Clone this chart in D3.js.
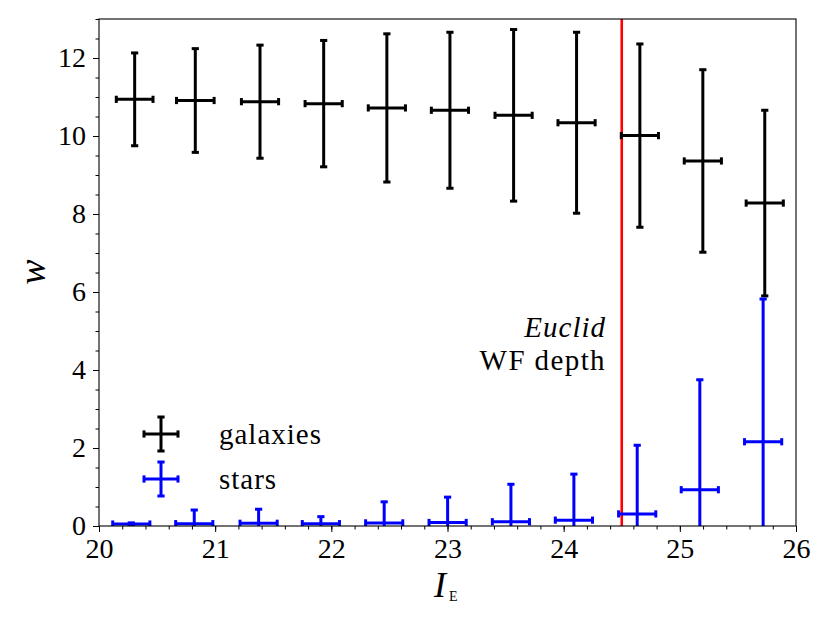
<!DOCTYPE html>
<html>
<head>
<meta charset="utf-8">
<script src="https://cdn.jsdelivr.net/npm/d3@7"></script>
</head>
<body style="margin:0;padding:0;background:#fff;">
<svg id="chart" width="830" height="623"></svg>
<script>
// ---- data ----
const galX    = [20.307, 20.829, 21.386, 21.934, 22.478, 23.021, 23.569, 24.111, 24.656, 25.198, 25.731];
const galXErr = [0.158, 0.162, 0.16, 0.16, 0.16, 0.16, 0.16, 0.16, 0.16, 0.16, 0.16];
const galY    = [10.94, 10.91, 10.88, 10.83, 10.72, 10.66, 10.53, 10.34, 10.01, 9.36, 8.28];
const galYErr = [1.19, 1.33, 1.45, 1.62, 1.90, 2.00, 2.20, 2.32, 2.35, 2.34, 2.38];

const starX    = [20.278, 20.820, 21.374, 21.910, 22.455, 23.001, 23.546, 24.088, 24.633, 25.172, 25.717];
const starXErr = [0.16, 0.16, 0.16, 0.16, 0.16, 0.16, 0.16, 0.16, 0.16, 0.16, 0.16];
const starY    = [0.05, 0.06, 0.07, 0.06, 0.08, 0.09, 0.11, 0.15, 0.31, 0.93, 2.16];
const starYErr = [0.03, 0.35, 0.36, 0.18, 0.54, 0.65, 0.96, 1.18, 1.76, 2.82, 3.66];

const xTicks = [20, 21, 22, 23, 24, 25, 26];
const yTicks = [0, 2, 4, 6, 8, 10, 12];
const depthLine = 24.5;
const legendLabels = ["galaxies", "stars"];

// ---- layout ----
const FONT = '"Liberation Serif"';
const svg = d3.select("#chart").attr("font-family", "Liberation Serif").style("font-family", FONT, "important");
const L = 99, R = 796, T = 19, B = 526;
const x = d3.scaleLinear().domain([20, 26]).range([L, R]);
const y = d3.scaleLinear().domain([0, 13]).range([B, T]);

function txt(sel, size) {
  return sel.attr("font-family", "Liberation Serif")
    .style("font-family", FONT, "important")
    .style("font-size", size + "px").style("fill", "#000");
}

svg.append("defs").append("clipPath").attr("id", "plotclip")
  .append("rect").attr("x", L).attr("y", T).attr("width", R - L).attr("height", B - T);

const plot = svg.append("g").attr("clip-path", "url(#plotclip)");

// red depth line
plot.append("line")
  .attr("x1", x(depthLine)).attr("x2", x(depthLine))
  .attr("y1", y(13)).attr("y2", y(0))
  .attr("stroke", "#ff0000").attr("stroke-width", 2.6);

function drawErr(g, xs, xe, ys, ye, color) {
  const cap = 3.6, lw = 3;
  xs.forEach((xv, i) => {
    const cx = x(xv), cy = y(ys[i]);
    const x0 = x(xv - xe[i]), x1 = x(xv + xe[i]);
    const y0 = y(ys[i] - ye[i]), y1 = y(ys[i] + ye[i]);
    const grp = g.append("g").attr("stroke", color).attr("stroke-width", lw).attr("fill", "none");
    grp.append("line").attr("x1", x0).attr("x2", x1).attr("y1", cy).attr("y2", cy);
    grp.append("line").attr("x1", cx).attr("x2", cx).attr("y1", y0).attr("y2", y1);
    grp.append("line").attr("x1", x0).attr("x2", x0).attr("y1", cy - cap).attr("y2", cy + cap);
    grp.append("line").attr("x1", x1).attr("x2", x1).attr("y1", cy - cap).attr("y2", cy + cap);
    grp.append("line").attr("x1", cx - cap).attr("x2", cx + cap).attr("y1", y0).attr("y2", y0);
    grp.append("line").attr("x1", cx - cap).attr("x2", cx + cap).attr("y1", y1).attr("y2", y1);
  });
}
drawErr(plot, galX, galXErr, galY, galYErr, "#000000");
drawErr(plot, starX, starXErr, starY, starYErr, "#0000ff");

// frame
svg.append("rect").attr("x", L).attr("y", T).attr("width", R - L).attr("height", B - T)
  .attr("fill", "none").attr("stroke", "#000").attr("stroke-width", 1.1);

// axes
const xAxis = d3.axisBottom(x).tickValues(xTicks).tickFormat(d3.format("d")).tickSize(6).tickPadding(6);
const xMinor = d3.axisBottom(x).tickValues(d3.range(20, 26.001, 0.2)).tickFormat("").tickSize(3.5);
const yAxis = d3.axisLeft(y).tickValues(yTicks).tickFormat(d3.format("d")).tickSize(6).tickPadding(7);
const yMinor = d3.axisLeft(y).tickValues(d3.range(0, 13.001, 0.5)).tickFormat("").tickSize(3.5);

function styleAxis(g) {
  g.attr("font-family", "Liberation Serif").attr("font-size", null);
  g.select(".domain").remove();
  g.selectAll(".tick line").attr("stroke", "#000").attr("stroke-width", 1);
  txt(g.selectAll("text"), 28);
}
svg.append("g").attr("transform", `translate(0,${B})`).call(xMinor).call(styleAxis);
svg.append("g").attr("transform", `translate(0,${B})`).call(xAxis).call(styleAxis);
svg.append("g").attr("transform", `translate(${L},0)`).call(yMinor).call(styleAxis);
svg.append("g").attr("transform", `translate(${L},0)`).call(yAxis).call(styleAxis);

// axis labels
const xl = txt(svg.append("text").attr("x", 434).attr("y", 597), 36);
xl.append("tspan").style("font-style", "italic").text("I");
xl.append("tspan").style("font-size", "14px").attr("dx", 3).attr("dy", 4).text("E");

txt(svg.append("text").attr("transform", "translate(45,272) rotate(-90)")
  .attr("text-anchor", "middle"), 38).style("font-style", "italic").text("w");

// depth annotation
txt(svg.append("text").attr("x", 606).attr("y", 337).attr("text-anchor", "end"), 29)
  .style("font-style", "italic").style("letter-spacing", "1px").text("Euclid");
txt(svg.append("text").attr("x", 606).attr("y", 370).attr("text-anchor", "end"), 29)
  .style("letter-spacing", "1.4px").text("WF depth");

// legend
const legColors = ["#000000", "#0000ff"];
const legY = [434, 479];
legendLabels.forEach((lab, i) => {
  const cx = 161, cy = legY[i], h = 17, cap = 3.6;
  const g = svg.append("g").attr("stroke", legColors[i]).attr("stroke-width", 3);
  g.append("line").attr("x1", cx - h).attr("x2", cx + h).attr("y1", cy).attr("y2", cy);
  g.append("line").attr("x1", cx).attr("x2", cx).attr("y1", cy - h).attr("y2", cy + h);
  g.append("line").attr("x1", cx - h).attr("x2", cx - h).attr("y1", cy - cap).attr("y2", cy + cap);
  g.append("line").attr("x1", cx + h).attr("x2", cx + h).attr("y1", cy - cap).attr("y2", cy + cap);
  g.append("line").attr("x1", cx - cap).attr("x2", cx + cap).attr("y1", cy - h).attr("y2", cy - h);
  g.append("line").attr("x1", cx - cap).attr("x2", cx + cap).attr("y1", cy + h).attr("y2", cy + h);
  txt(svg.append("text").attr("x", 219).attr("y", cy + 10), 29).style("letter-spacing", "1px").text(lab);
});
</script>
<style>
  svg text, svg tspan { font-family: "Liberation Serif" !important; }
</style>
</body>
</html>
